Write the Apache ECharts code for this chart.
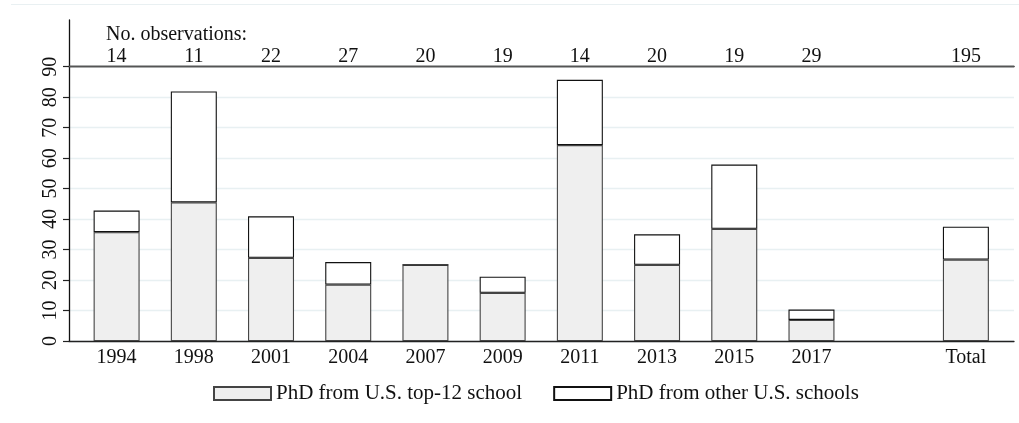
<!DOCTYPE html>
<html>
<head>
<meta charset="utf-8">
<script src="https://cdn.jsdelivr.net/npm/echarts@6/dist/echarts.min.js"></script>
<style>
  html, body { margin: 0; padding: 0; background: #fff; }
  #main { width: 1019px; height: 423px; }
</style>
</head>
<body>
<div id="main"></div>
<script>
// categories (one empty slot before Total)
var years = ['1994', '1998', '2001', '2004', '2007', '2009', '2011', '2013', '2015', '2017', '', 'Total'];
// number of observations per survey
var obsCounts = ['14', '11', '22', '27', '20', '19', '14', '20', '19', '29', '', '195'];
// percent with PhD from a US top-12 school
var top12 = [35.7, 45.5, 27.3, 18.5, 25.0, 15.8, 64.3, 25.0, 36.8, 6.9, '-', 26.7];
// percent with PhD from other US schools (stacked on top)
var otherUS = [7.1, 36.4, 13.6, 7.4, 0, 5.3, 21.4, 10.0, 21.1, 3.4, '-', 10.8];
var yTicks = { min: 0, max: 90, interval: 10 };

var serif = '"Liberation Serif", "DejaVu Serif", serif';
var chart = echarts.init(document.getElementById('main'), null, { renderer: 'canvas' });

var plotTop = 66.7, plotBottom = 82;

var option = {
  backgroundColor: '#ffffff',
  animation: false,
  title: {
    text: 'No. observations:',
    left: 106, top: 25, padding: 0,
    textStyle: { fontFamily: serif, fontSize: 20, fontWeight: 'normal', color: '#111' }
  },
  legend: {
    left: 213, top: 383, padding: 0,
    itemWidth: 57, itemHeight: 13, itemGap: 31,
    icon: 'rect',
    textStyle: { fontFamily: serif, fontSize: 21, color: '#111' },
    data: ['PhD from U.S. top-12 school', 'PhD from other U.S. schools']
  },
  graphic: [{
    type: 'line',
    shape: { x1: 11, y1: 4.5, x2: 1019, y2: 4.5 },
    style: { stroke: '#e9f0f2', lineWidth: 1 },
    silent: true
  }],
  grid: [
    // frame + y axis
    { left: 69, right: 5, top: plotTop, bottom: plotBottom },
    // bars
    { left: 78, right: 14.5, top: plotTop, bottom: plotBottom },
    // observation panel
    { left: 69, right: 5, top: 20, height: plotTop - 20 }
  ],
  xAxis: [
    { gridIndex: 0, type: 'value', min: 0, max: 1, position: 'bottom',
      axisLine: { show: true, lineStyle: { color: '#222', width: 1.3 } },
      axisTick: { show: false }, axisLabel: { show: false }, splitLine: { show: false } },
    { gridIndex: 0, type: 'value', min: 0, max: 1, position: 'top',
      axisLine: { show: true, lineStyle: { color: '#333', width: 1.3 } },
      axisTick: { show: false }, axisLabel: { show: false }, splitLine: { show: false } },
    { gridIndex: 1, type: 'category', data: years, position: 'bottom',
      axisLine: { show: false }, axisTick: { show: false },
      axisLabel: { fontFamily: serif, fontSize: 20, color: '#111', margin: 7, interval: 0 } },
    { gridIndex: 1, type: 'category', data: obsCounts, position: 'top',
      axisLine: { show: false }, axisTick: { show: false },
      axisLabel: { fontFamily: serif, fontSize: 20, color: '#111', margin: 0, interval: 0 } },
    { gridIndex: 2, type: 'value', min: 0, max: 1, position: 'top',
      axisLine: { show: true, lineStyle: { color: '#555', width: 1.3 } },
      axisTick: { show: false }, axisLabel: { show: false }, splitLine: { show: false } }
  ],
  yAxis: [
    { gridIndex: 0, type: 'value', min: yTicks.min, max: yTicks.max, interval: yTicks.interval,
      axisLine: { show: true, lineStyle: { color: '#111', width: 1.3 } },
      axisTick: { show: true, length: 6, lineStyle: { color: '#222', width: 1.2 } },
      axisLabel: { rotate: 90, margin: 8, fontFamily: serif, fontSize: 20, color: '#111' },
      splitLine: { show: true, lineStyle: { color: '#e8f0f2', width: 1.3 } } },
    { gridIndex: 1, type: 'value', min: yTicks.min, max: yTicks.max, interval: yTicks.interval,
      show: false, splitLine: { show: false } },
    { gridIndex: 2, type: 'value', min: 0, max: 1,
      axisLine: { show: true, lineStyle: { color: '#111', width: 1.3 } },
      axisTick: { show: false }, axisLabel: { show: false }, splitLine: { show: false } }
  ],
  series: [
    {
      name: 'PhD from U.S. top-12 school',
      type: 'bar', stack: 'phd', xAxisIndex: 2, yAxisIndex: 1,
      barWidth: 46,
      itemStyle: { color: '#efefef', borderColor: '#444', borderWidth: 1.1 },
      data: top12
    },
    {
      name: 'PhD from other U.S. schools',
      type: 'bar', stack: 'phd', xAxisIndex: 2, yAxisIndex: 1,
      barWidth: 46,
      itemStyle: { color: '#ffffff', borderColor: '#111', borderWidth: 1.1 },
      data: otherUS
    }
  ]
};

chart.setOption(option);
</script>
</body>
</html>
